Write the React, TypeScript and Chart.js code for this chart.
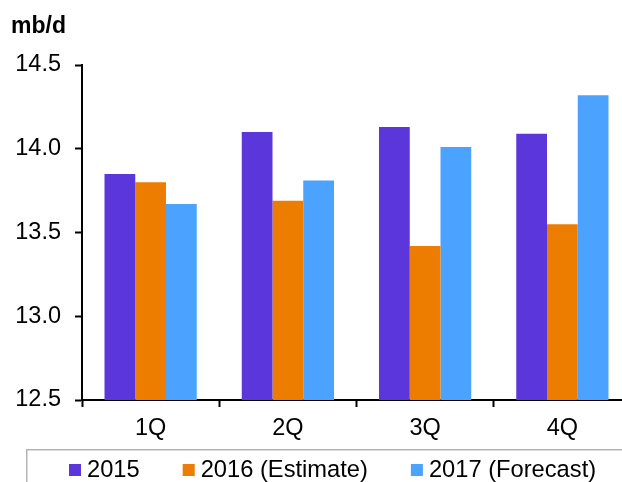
import { useEffect, useRef } from "react";
import { Chart, registerables } from "chart.js";

Chart.register(...registerables);

const categories = ["1Q", "2Q", "3Q", "4Q"];
const seriesLabels = ["2015", "2016 (Estimate)", "2017 (Forecast)"];
const values2015 = [13.85, 14.1, 14.13, 14.09];
const values2016 = [13.8, 13.69, 13.42, 13.55];
const values2017 = [13.67, 13.81, 14.01, 14.32];
const yTicks = [12.5, 13.0, 13.5, 14.0, 14.5];
const unitLabel = "mb/d";

const FONT = "'Liberation Sans', Arial, sans-serif";
const COLORS = ["#5B37DB", "#EC7D00", "#4BA2FF"];

const overlayPlugin = {
  id: "overlay",
  afterDraw(chart: any) {
    const ctx = chart.ctx as CanvasRenderingContext2D;
    ctx.save();
    ctx.fillStyle = "#000";
    ctx.textBaseline = "alphabetic";
    ctx.textAlign = "left";
    ctx.font = `bold 23px ${FONT}`;
    ctx.fillText(unitLabel, 11, 33);

    ctx.strokeStyle = "#b4b4b4";
    ctx.lineWidth = 1.5;
    ctx.strokeRect(26.75, 449.75, 900, 100);

    ctx.font = `23.7px ${FONT}`;
    let x = 69;
    chart.data.datasets.forEach((ds: any) => {
      ctx.fillStyle = ds.backgroundColor;
      ctx.fillRect(x, 464, 12, 12);
      ctx.fillStyle = "#000";
      ctx.fillText(ds.label, x + 18, 477);
      x += 18 + ctx.measureText(ds.label).width + 43;
    });
    ctx.restore();
  },
};

export default function App() {
  const ref = useRef<HTMLCanvasElement>(null);

  useEffect(() => {
    document.body.style.margin = "0";
    document.body.style.overflow = "hidden";
    if (!ref.current) return;
    const data = [values2015, values2016, values2017];
    const chart = new Chart(ref.current, {
      type: "bar",
      data: {
        labels: categories,
        datasets: seriesLabels.map((label, i) => ({
          label,
          data: data[i],
          backgroundColor: COLORS[i],
          borderWidth: 0,
          categoryPercentage: 0.672,
          barPercentage: 1.0,
        })),
      },
      options: {
        animation: false,
        responsive: false,
        devicePixelRatio: 1,
        layout: { padding: { left: 0, top: 65, right: 33, bottom: 32 } },
        plugins: {
          legend: { display: false },
          tooltip: { enabled: false },
          title: { display: false },
        },
        scales: {
          x: {
            offset: true,
            grid: {
              offset: true,
              drawOnChartArea: false,
              drawTicks: true,
              tickLength: 7,
              tickColor: "#000",
              tickWidth: 2,
            },
            border: { display: true, color: "#000", width: 2 },
            ticks: {
              color: "#000",
              font: { family: FONT, size: 23.5 },
              padding: 7,
            },
            afterFit(scale: any) {
              scale.height = 50;
            },
          },
          y: {
            min: 12.5,
            max: 14.5,
            afterBuildTicks(scale: any) {
              scale.ticks = yTicks.map((v) => ({ value: v }));
            },
            grid: {
              drawOnChartArea: false,
              drawTicks: true,
              tickLength: 7,
              tickColor: "#000",
              tickWidth: 2,
            },
            border: { display: true, color: "#000", width: 2 },
            ticks: {
              color: "#000",
              font: { family: FONT, size: 23.5 },
              padding: 14,
              callback: (v: any) => Number(v).toFixed(1),
            },
            afterFit(scale: any) {
              scale.width = 82;
            },
          },
        },
      },
      plugins: [overlayPlugin],
    });
    return () => chart.destroy();
  }, []);

  return (
    <div
      style={{
        position: "fixed",
        left: 0,
        top: 0,
        width: 622,
        height: 482,
        overflow: "hidden",
        background: "#fff",
      }}
    >
      <canvas ref={ref} width={664} height={482} style={{ display: "block" }} />
    </div>
  );
}
